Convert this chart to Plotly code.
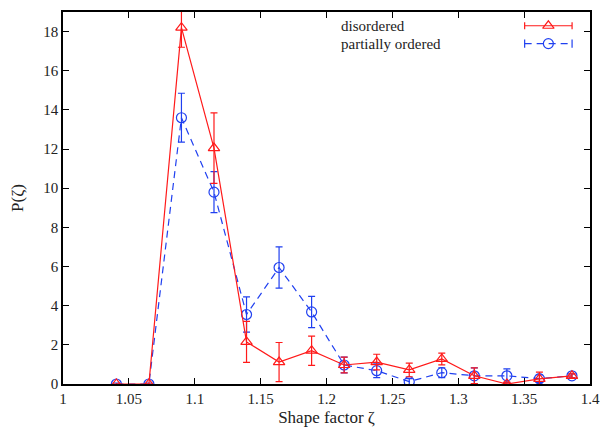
import plotly.graph_objects as go

zeta = [1.0405, 1.0652, 1.0899, 1.1146, 1.1393, 1.1640, 1.1887, 1.2134,
        1.2381, 1.2628, 1.2875, 1.3122, 1.3369, 1.3616, 1.3863]
p_dis = [0.0, 0.0, 18.2, 12.05, 2.15, 1.12, 1.7, 0.97, 1.12, 0.72, 1.28, 0.42, 0.0, 0.26, 0.42]
e_dis = [0.0, 0.0, 1.0, 1.8, 1.05, 1.0, 0.75, 0.4, 0.4, 0.35, 0.3, 0.4, 0.1, 0.35, 0.1]
p_po = [0.0, 0.0, 13.6, 9.8, 3.55, 5.95, 3.68, 0.97, 0.68, 0.12, 0.58, 0.42, 0.42, 0.27, 0.42]
e_po = [0.05, 0.05, 1.25, 1.05, 0.9, 1.05, 0.8, 0.4, 0.35, 0.15, 0.25, 0.4, 0.35, 0.2, 0.1]

x_ticks = [1, 1.05, 1.1, 1.15, 1.2, 1.25, 1.3, 1.35, 1.4]
x_tick_labels = ["1", "1.05", "1.1", "1.15", "1.2", "1.25", "1.3", "1.35", "1.4"]
y_ticks = [0, 2, 4, 6, 8, 10, 12, 14, 16, 18]

names = ["disordered", "partially ordered"]
RED = "#ff1a1a"
BLUE = "#2040f0"
FONT = "Liberation Serif, Times New Roman, DejaVu Serif, serif"

fig = go.Figure()
fig.add_trace(go.Scatter(
    x=zeta, y=p_po, mode="lines+markers", name=names[1],
    line=dict(color=BLUE, width=1.2, dash="7px,5px"),
    marker=dict(symbol="circle-open", size=10, color=BLUE, line=dict(width=1.2)),
    error_y=dict(type="data", array=e_po, color=BLUE, thickness=1.2, width=3.5),
    showlegend=False))
fig.add_trace(go.Scatter(
    x=zeta, y=p_dis, mode="lines+markers", name=names[0],
    line=dict(color=RED, width=1.2),
    marker=dict(symbol="triangle-up-open", size=10, color=RED, line=dict(width=1.2)),
    error_y=dict(type="data", array=e_dis, color=RED, thickness=1.2, width=3.5),
    showlegend=False))

# gnuplot-style key (samples on an invisible overlay axis 0..1)
key_x0, key_x1, key_xm = 0.876, 0.966, 0.921
key_y = [0.963, 0.915]
fig.add_trace(go.Scatter(x=[key_xm], y=[key_y[0]], mode="markers", xaxis="x2", yaxis="y2",
                         marker=dict(symbol="triangle-up-open", size=10, color=RED, line=dict(width=1.2)),
                         error_x=dict(type="data", array=[key_xm - key_x0], color=RED, thickness=1.2, width=3.5),
                         showlegend=False, hoverinfo="skip"))
fig.add_trace(go.Scatter(x=[key_x0, key_x1], y=[key_y[1], key_y[1]], mode="lines", xaxis="x2", yaxis="y2",
                         line=dict(color=BLUE, width=1.2, dash="7px,5px"), showlegend=False, hoverinfo="skip"))
fig.add_trace(go.Scatter(x=[key_xm], y=[key_y[1]], mode="markers", xaxis="x2", yaxis="y2",
                         marker=dict(symbol="circle-open", size=10, color=BLUE, line=dict(width=1.2)),
                         showlegend=False, hoverinfo="skip"))
for xc in (key_x0, key_x1):
    fig.add_shape(type="line", xref="x2", yref="y2", x0=xc, x1=xc, y0=key_y[1] - 0.011, y1=key_y[1] + 0.011,
                  line=dict(color=BLUE, width=1.2))

for txt, yy in zip(names, key_y):
    fig.add_annotation(text=txt, xref="paper", yref="paper", x=0.523, y=yy, xanchor="left", yanchor="middle",
                       showarrow=False, font=dict(family=FONT, size=15, color="#222"))

axis_common = dict(showgrid=False, zeroline=False, ticks="inside", ticklen=6, tickwidth=1,
                   tickcolor="black", mirror="ticks", showline=True, linecolor="black", linewidth=1.5,
                   automargin=False, ticklabeloverflow="allow",
                   tickfont=dict(family=FONT, size=15, color="#222"))

# page body has an 8px default margin; the visible area ends near x=600,
# so the right margin leaves room for the last tick label
fig.update_layout(
    width=600, height=419,
    margin=dict(l=55, r=18, t=4, b=43),
    plot_bgcolor="white", paper_bgcolor="white",
    font=dict(family=FONT, size=15, color="#222"),
    xaxis=dict(range=[1, 1.4], tickvals=x_ticks, ticktext=x_tick_labels,
               title=dict(text="Shape factor ζ", font=dict(family=FONT, size=17), standoff=6), **axis_common),
    yaxis=dict(range=[0, 19], tickvals=y_ticks,
               title=dict(text="P(ζ)", font=dict(family=FONT, size=17), standoff=17), **axis_common),
    xaxis2=dict(range=[0, 1], overlaying="x", visible=False, fixedrange=True),
    yaxis2=dict(range=[0, 1], overlaying="y", visible=False, fixedrange=True),
)

fig.write_html("out.html")
